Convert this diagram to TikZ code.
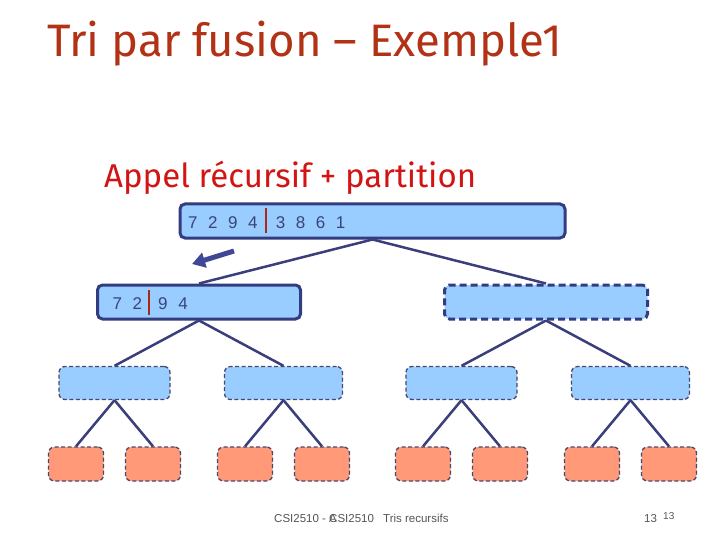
\documentclass[tikz,border=0pt]{standalone}
\usepackage{fontspec}
\setmainfont{Liberation Sans}
\newfontfamily\titlefont{Fira Sans}
\usetikzlibrary{arrows.meta}
\definecolor{titlered}{RGB}{178,50,22}
\definecolor{subred}{RGB}{210,20,20}
\definecolor{boxblue}{RGB}{153,204,255}
\definecolor{navy}{RGB}{51,60,128}
\definecolor{edgeblue}{RGB}{58,62,122}
\definecolor{arrowblue}{RGB}{62,72,150}
\definecolor{dashgray}{RGB}{72,72,110}
\definecolor{salmon}{RGB}{255,153,120}
\definecolor{numblue}{RGB}{58,68,120}
\definecolor{splitred}{RGB}{170,40,20}
\definecolor{footgray}{RGB}{85,85,85}
\newcommand{\dg}{\hspace{10.6pt}}
\newcommand{\splitbar}{\textcolor{splitred}{\rule[-5pt]{2.2pt}{25pt}}}
\tikzset{
  solidbox/.style={rectangle, draw=navy, line width=3pt, fill=boxblue, rounded corners=5pt, minimum height=34pt, inner ysep=0pt, font=\fontsize{17}{17}\selectfont, text=numblue, align=left},
  dashbox/.style={solidbox, dash pattern=on 7pt off 4pt, minimum width=203pt},
  midbox/.style={rectangle, draw=dashgray, line width=1.3pt, dash pattern=on 4pt off 2.5pt, fill=boxblue, rounded corners=6pt, minimum width=111pt, minimum height=33pt},
  leafbox/.style={midbox, fill=salmon, minimum width=55pt, minimum height=34pt},
  link/.style={draw=edgeblue, line width=2.5pt},
  foot/.style={anchor=base west, inner sep=0pt, text=footgray, font=\fontsize{11.5}{13}\selectfont}
}
\begin{document}
\begin{tikzpicture}[x=1pt, y=-1pt, level distance=81pt,
  level 1/.style={sibling distance=347pt},
  level 2/.style={sibling distance=169pt},
  level 3/.style={sibling distance=77pt},
  edge from parent/.style={link},
  edge from parent path={(\tikzparentnode.south) -- (\tikzchildnode.north)}]
  \useasboundingbox (0,0) rectangle (720,540);

  % titles
  \node[anchor=base west, inner sep=0pt, text=titlered, font=\titlefont\fontsize{45.5}{52}\selectfont] (title) at (47,57) {Tri par fusion – Exemple1};
  \node[anchor=base west, inner sep=0pt, text=subred, font=\titlefont\fontsize{33}{38}\selectfont] (subtitle) at (104,188) {Appel récursif + partition};

  % call tree
  \node[solidbox, text width=369pt, inner xsep=8pt] (root) at (372.5,221) {7\dg 2\dg 9\dg 4\hspace{7pt}\splitbar\hspace{9pt}3\dg 8\dg 6\dg 1}
    child {node[solidbox, text width=173pt, inner xsep=15pt] (left) {7\dg 2\hspace{6pt}\splitbar\hspace{8pt}9\dg 4}
      child {node[midbox] (ll) {}
        child {node[leafbox] (lll) {}}
        child {node[leafbox] (llr) {}}
      }
      child {node[midbox, minimum width=118pt] (lr) {}
        child {node[leafbox] (lrl) {}}
        child {node[leafbox] (lrr) {}}
      }
    }
    child {node[dashbox] (right) {}
      child {node[midbox] (rl) {}
        child {node[leafbox] (rll) {}}
        child {node[leafbox] (rlr) {}}
      }
      child {node[midbox, minimum width=118pt] (rr) {}
        child {node[leafbox] (rrl) {}}
        child {node[leafbox] (rrr) {}}
      }
    };

  % direction of the recursive call
  \coordinate (arrtail) at (234,251);
  \coordinate (arrtip) at (192,264);
  \draw[arrowblue, line width=5pt, -{Triangle[length=13pt,width=15pt]}] (arrtail) -- (arrtip);

  % footer
  \node[foot] (foota) at (274,522) {CSI2510 - A};
  \node[foot] (footb) at (329,522) {CSI2510};
  \node[foot] (footc) at (383,522) {Tris recursifs};
  \node[foot] (pagea) at (644,522) {13};
  \node[foot, font=\fontsize{10}{12}\selectfont] (pageb) at (663,519) {13};
\end{tikzpicture}
\end{document}
